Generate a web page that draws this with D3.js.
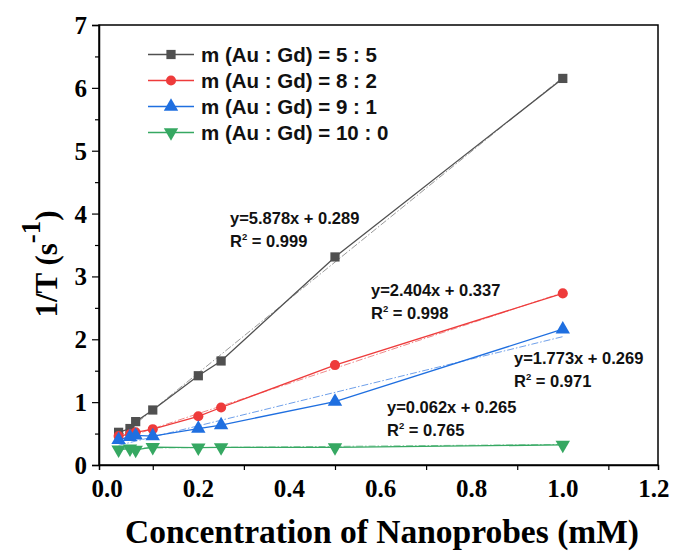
<!DOCTYPE html>
<html>
<head>
<meta charset="utf-8">
<script src="https://cdn.jsdelivr.net/npm/d3@7"></script>
<style>
  body { margin: 0; background: #fff; }
  svg { display: block; }
</style>
</head>
<body>
<div id="chart"></div>
<script>
// concentrations (mM)
let conc = [0.025, 0.05, 0.0625, 0.1, 0.2, 0.25, 0.5, 1.0];

let names = ["m (Au : Gd) = 5 : 5", "m (Au : Gd) = 8 : 2", "m (Au : Gd) = 9 : 1", "m (Au : Gd) = 10 : 0"];

// 1/T values (s^-1)
let gd55 = [0.52, 0.58, 0.69, 0.875, 1.42, 1.655, 3.31, 6.15];
let gd82 = [0.46, 0.49, 0.52, 0.57, 0.775, 0.915, 1.59, 2.73];
let gd91 = [0.40, 0.45, 0.47, 0.46, 0.58, 0.635, 1.01, 2.16];
let gd100 = [0.245, 0.26, 0.24, 0.285, 0.275, 0.28, 0.28, 0.32];

// linear fits
let slopes = [5.878, 2.404, 1.773, 0.062];
let intercepts = [0.289, 0.337, 0.269, 0.265];
let r2 = ["0.999", "0.998", "0.971", "0.765"];

let xTicks = [0, 0.2, 0.4, 0.6, 0.8, 1.0, 1.2];
let xMinor = [0.1, 0.3, 0.5, 0.7, 0.9, 1.1];
let yTicks = [0, 1, 2, 3, 4, 5, 6, 7];

let width = 674, height = 551;
let colors = ["#505050", "#ee3b3b", "#1f6fe0", "#36a862"];
let fitColors = ["#9a9a9a", "#f08a8a", "#6fa0ea", "#7cc79a"];
let symbols = [d3.symbolSquare, d3.symbolCircle, d3.symbolTriangle, d3.symbolTriangle];
let symSize = [85, 80, 90, 90];
let rot = [0, 0, 0, 180];

// where the equation labels sit (px)
let eqPos = [[230, 224], [371, 296], [514, 364], [387, 413]];

let series = [gd55, gd82, gd91, gd100].map((vals, i) => ({
    name: names[i],
    points: vals.map((v, j) => ({x: conc[j], y: v}))
}));

let svg = d3.select("#chart").append("svg")
    .attr("width", width)
    .attr("height", height);

svg.append("rect").attr("width", width).attr("height", height).attr("fill", "#fff");

let x = d3.scaleLinear().domain([-0.018, 1.209]).range([99, 658]);
let y = d3.scaleLinear().domain([0, 7]).range([465, 25]);

let serif = "'Liberation Serif', 'Times New Roman', serif";
let sans = "'Liberation Sans', Arial, sans-serif";

// frame
svg.append("rect")
    .attr("x", x.range()[0]).attr("y", y.range()[1])
    .attr("width", x.range()[1] - x.range()[0])
    .attr("height", y.range()[0] - y.range()[1])
    .attr("fill", "none").attr("stroke", "#000").attr("stroke-width", 1.5);

// x axis: only the odd tenths carry ticks, labels at even tenths
let xAxis = d3.axisBottom(x).tickValues(xMinor).tickSize(5).tickFormat("");
let gx = svg.append("g").attr("transform", `translate(0,${y.range()[0]})`).call(xAxis);
gx.select(".domain").attr("stroke-width", 1.5);
gx.selectAll(".tick line").attr("stroke-width", 1.2);

svg.append("g").selectAll("text")
    .data(xTicks)
    .enter()
    .append("text")
    .attr("x", d => x(d))
    .attr("y", 497)
    .attr("text-anchor", "middle")
    .attr("font-family", serif)
    .attr("font-weight", "bold")
    .attr("font-size", 25)
    .text(d => d3.format(".1f")(d));

// y axis
let yAxis = d3.axisLeft(y).tickValues(yTicks).tickSize(7).tickPadding(5).tickFormat(d3.format("d"));
let gy = svg.append("g").attr("transform", `translate(${x.range()[0]},0)`).call(yAxis);
gy.select(".domain").attr("stroke-width", 1.5);
gy.selectAll(".tick line").attr("stroke-width", 1.2);
gy.selectAll(".tick text")
    .attr("font-family", serif)
    .attr("font-weight", "bold")
    .attr("font-size", 25)
    .attr("dy", "0.34em");

let gyMinor = svg.append("g").attr("transform", `translate(${x.range()[0]},0)`)
    .call(d3.axisLeft(y).tickValues(d3.range(0.5, 7, 1)).tickSize(4).tickFormat(""));
gyMinor.select(".domain").remove();
gyMinor.selectAll(".tick line").attr("stroke-width", 1.2);

// axis titles
svg.append("text")
    .attr("x", 382)
    .attr("y", 543)
    .attr("text-anchor", "middle")
    .attr("font-family", serif)
    .attr("font-weight", "bold")
    .attr("font-size", 33.5)
    .text("Concentration of Nanoprobes (mM)");

let yTitle = svg.append("text")
    .attr("transform", "translate(57,264) rotate(-90)")
    .attr("text-anchor", "middle")
    .attr("font-family", serif)
    .attr("font-weight", "bold")
    .attr("font-size", 31);
yTitle.append("tspan").text("1/T (s");
yTitle.append("tspan").attr("dy", -17).attr("font-size", 27).text("-1");
yTitle.append("tspan").attr("dy", 17).text(")");

// fit lines
let fitGroup = svg.append("g");
series.forEach((s, i) => {
    let x0 = conc[0], x1 = conc[conc.length - 1];
    fitGroup.append("line")
        .attr("x1", x(x0)).attr("y1", y(slopes[i] * x0 + intercepts[i]))
        .attr("x2", x(x1)).attr("y2", y(slopes[i] * x1 + intercepts[i]))
        .attr("stroke", fitColors[i])
        .attr("stroke-width", 1)
        .attr("stroke-dasharray", "7,2,1.5,2");
});

// data lines and markers
let line = d3.line().x(d => x(d.x)).y(d => y(d.y));
series.forEach((s, i) => {
    svg.append("path")
        .datum(s.points)
        .attr("fill", "none")
        .attr("stroke", colors[i])
        .attr("stroke-width", 1.3)
        .attr("d", line);
});
series.forEach((s, i) => {
    svg.append("g").selectAll("path")
        .data(s.points)
        .enter()
        .append("path")
        .attr("d", d3.symbol().type(symbols[i]).size(symSize[i]))
        .attr("transform", d => `translate(${x(d.x)},${y(d.y)}) rotate(${rot[i]})`)
        .attr("fill", colors[i]);
});

// fit equations
series.forEach((s, i) => {
    let [ex, ey] = eqPos[i];
    let g = svg.append("g")
        .attr("font-family", sans)
        .attr("font-weight", "bold")
        .attr("font-size", 16.5)
        .attr("fill", "#111");
    g.append("text").attr("x", ex).attr("y", ey)
        .text(`y=${slopes[i].toFixed(3)}x + ${intercepts[i].toFixed(3)}`);
    let t = g.append("text").attr("x", ex).attr("y", ey + 23);
    t.append("tspan").text("R");
    t.append("tspan").attr("dy", -7).attr("font-size", 9.5).text("2");
    t.append("tspan").attr("dy", 7).text(" = " + r2[i]);
});

// legend
let legend = svg.append("g");
series.forEach((s, i) => {
    let ly = 54.5 + i * 26;
    legend.append("line")
        .attr("x1", 148).attr("x2", 194)
        .attr("y1", ly).attr("y2", ly)
        .attr("stroke", colors[i]).attr("stroke-width", 1.3);
    legend.append("path")
        .attr("d", d3.symbol().type(symbols[i]).size(symSize[i]))
        .attr("transform", `translate(171,${ly}) rotate(${rot[i]})`)
        .attr("fill", colors[i]);
    legend.append("text")
        .attr("x", 201).attr("y", ly + 7.5)
        .attr("font-family", sans)
        .attr("font-weight", "bold")
        .attr("font-size", 20.5)
        .attr("fill", "#111")
        .text(s.name);
});
</script>
</body>
</html>
